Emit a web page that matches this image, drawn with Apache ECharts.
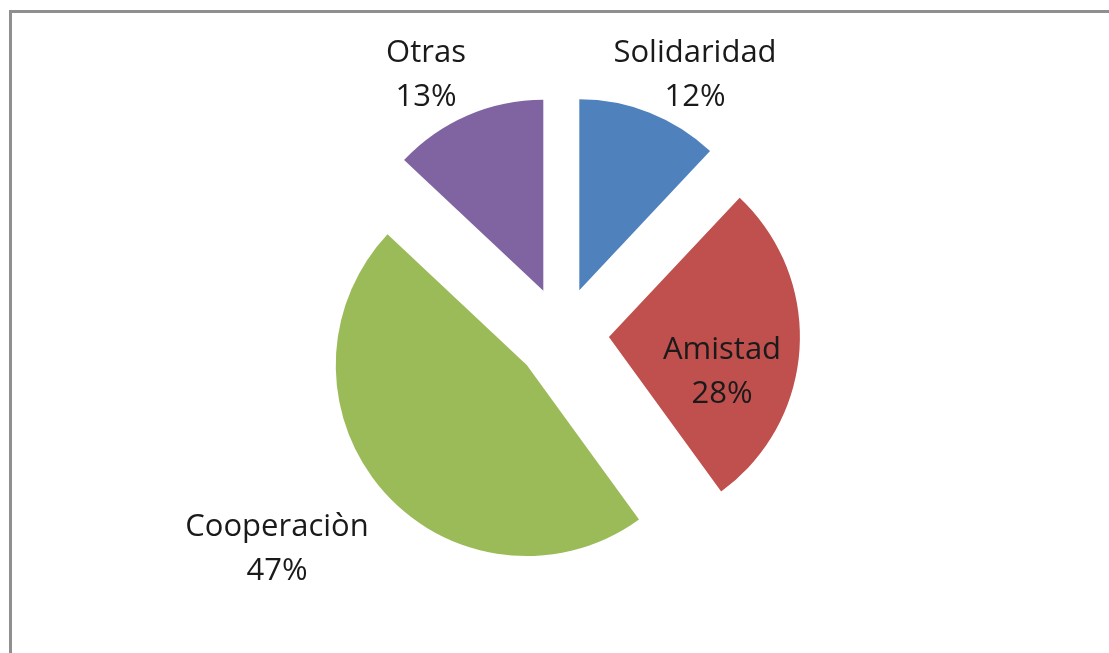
<!DOCTYPE html>
<html>
<head>
<meta charset="utf-8">
<script src="https://cdn.jsdelivr.net/npm/echarts@6/dist/echarts.min.js"></script>
<style>
    html, body { margin: 0; padding: 0; background: #fff; }
    #chart { width: 1109px; height: 653px; }
</style>
</head>
<body>
<div id="chart"></div>
<script>
// valores
const categories = ['Solidaridad', 'Amistad', 'Cooperaciòn', 'Otras']
const values = [12, 28, 47, 13]
const colors = ['#4f81bd', '#c0504d', '#9bbb59', '#8064a2']

// centro de cada etiqueta (estilo Excel)
const labelSpots = [[695, 75], [722, 372], [277, 549], [426, 75]]

const pieCenter = [562, 334]
const pieRadius = 191

let chart = echarts.init(document.getElementById('chart'))
chart.setOption({
    animation: false,
    graphic: [
        {
            type: 'rect',
            shape: { x: 10.5, y: 11.5, width: 1200, height: 800 },
            style: { fill: 'none', stroke: '#8f8f8f', lineWidth: 3 }
        }
    ],
    series: [
        // sectores separados
        {
            type: 'pie',
            center: pieCenter,
            radius: pieRadius,
            startAngle: 90,
            clockwise: true,
            selectedMode: 'multiple',
            selectedOffset: 47,
            label: { show: false },
            labelLine: { show: false },
            emphasis: { disabled: true },
            data: categories.map((name, i) => ({
                name: name,
                value: values[i],
                selected: true,
                itemStyle: { color: colors[i] }
            }))
        },
        // solo etiquetas
        {
            type: 'pie',
            center: pieCenter,
            radius: pieRadius,
            startAngle: 90,
            clockwise: true,
            silent: true,
            itemStyle: { color: 'rgba(0,0,0,0)' },
            label: {
                show: true,
                position: 'outside',
                formatter: '{b}\n{d}%',
                fontFamily: 'Open Sans',
                fontSize: 31,
                lineHeight: 44,
                color: '#1a1a1a'
            },
            labelLine: { show: false },
            labelLayout: function (params) {
                let p = labelSpots[params.dataIndex]
                return { x: p[0], y: p[1], align: 'center', verticalAlign: 'middle' }
            },
            emphasis: { disabled: true },
            data: categories.map((name, i) => ({ name: name, value: values[i] }))
        }
    ]
})
</script>
</body>
</html>
